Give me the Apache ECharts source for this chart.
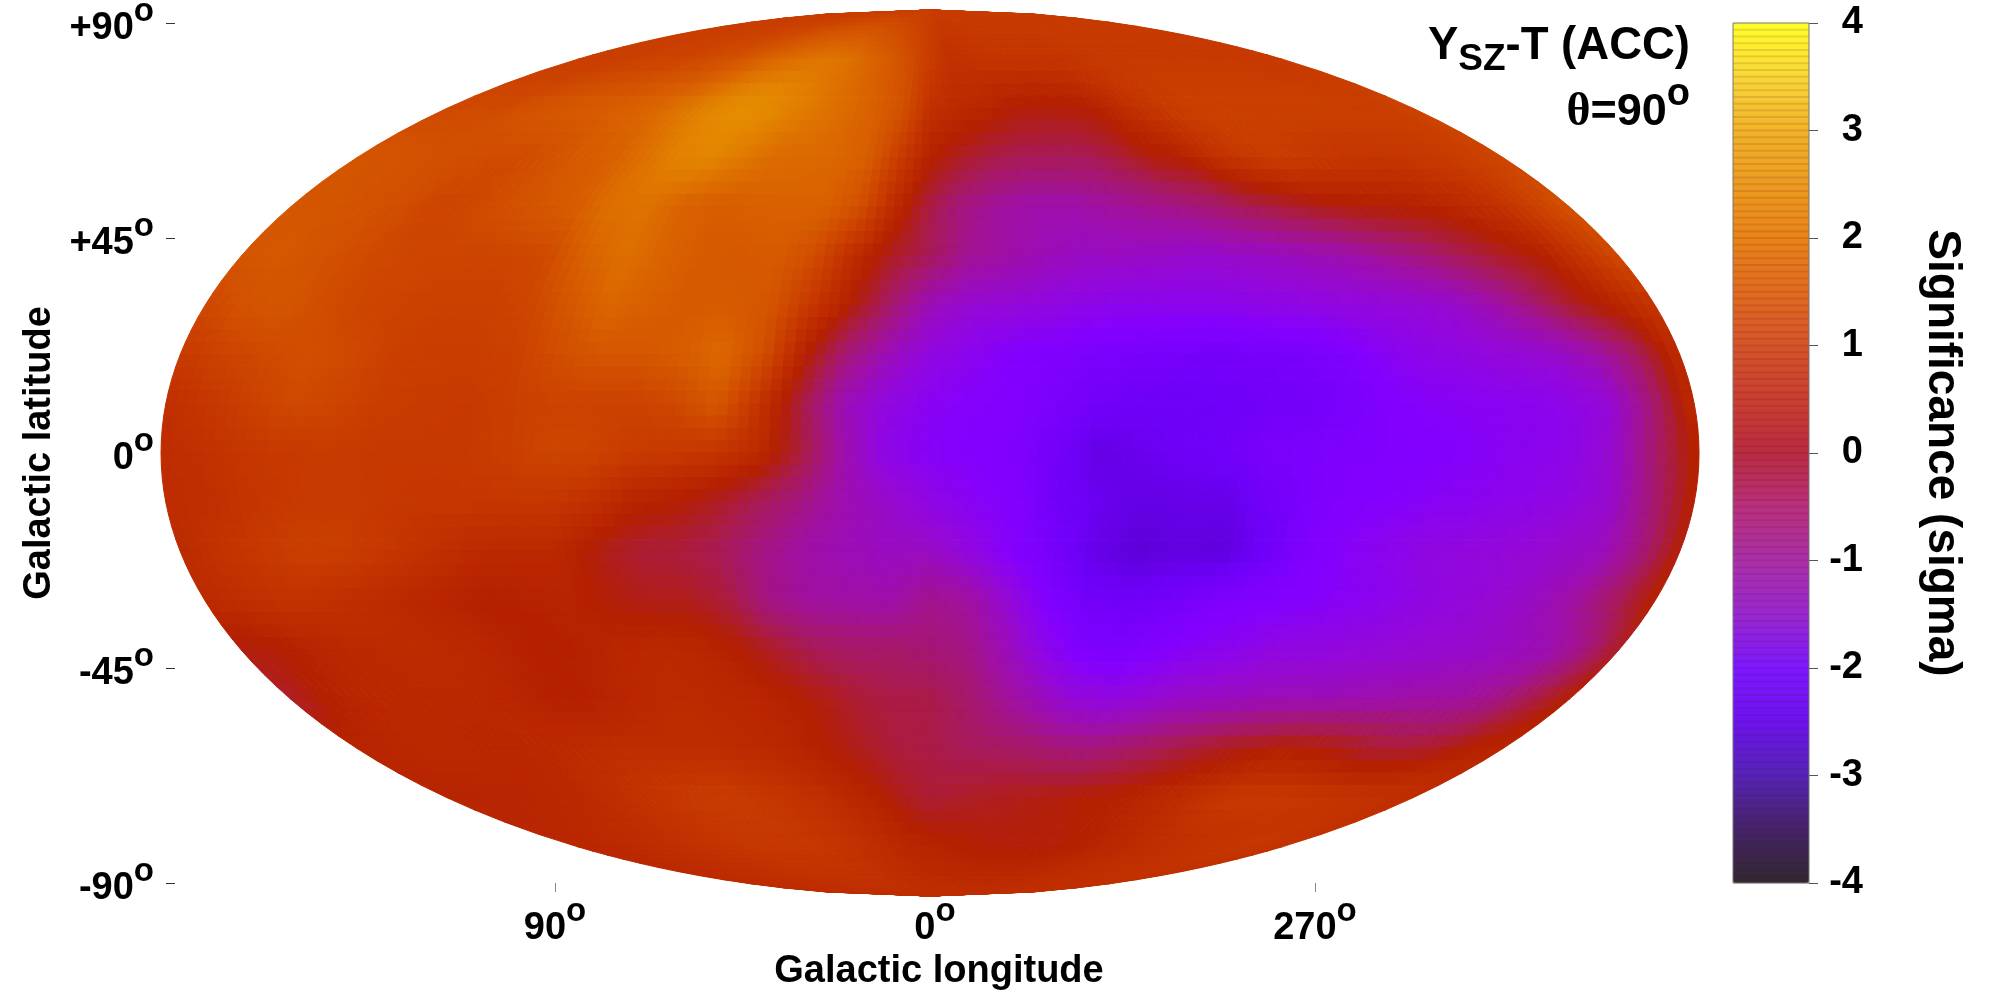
<!DOCTYPE html>
<html>
<head>
<meta charset="utf-8">
<style>html,body{margin:0;padding:0;background:#fff}#c{width:2000px;height:1000px}</style>
<script src="https://cdn.jsdelivr.net/npm/echarts@6/dist/echarts.min.js"></script>
</head>
<body>
<div id="c"></div>
<script>
// Significance, one row per latitude, columns lon = +180 ... -180 (left to right), step 10 deg.
const lons = [180,170,160,150,140,130,120,110,100,90,80,70,60,50,40,30,20,10,0,-10,-20,-30,-40,-50,-60,-70,-80,-90,-100,-110,-120,-130,-140,-150,-160,-170,-180];
const lats = [90,80,70,60,50,40,30,20,10,0,-10,-20,-30,-40,-50,-60,-70,-80,-90];
const p90 = [.7,.7,.7,.7,.7,.7,.7,.7,.7,.7,.7,.7,.7,.7,.7,.7,.7,.7,.7,.65,.65,.65,.65,.65,.65,.65,.65,.65,.65,.65,.65,.65,.65,.65,.65,.65,.65];
const p80 = [.7,.7,.7,.75,.8,.8,.9,1.0,1.1,1.3,1.5,1.65,1.75,1.8,1.7,1.5,1.3,1.0,.7,.4,.45,.5,.5,.5,.5,.5,.55,.6,.6,.6,.6,.6,.6,.6,.6,.6,.6];
const p70 = [.9,.95,.95,1.1,1.2,1.3,1.35,1.45,1.6,1.85,2.15,2.3,2.25,2.0,1.8,1.6,1.4,1.1,.4,.25,.15,.0,-.05,-.05,.0,.25,.5,.65,.75,.75,.75,.75,.75,.75,.7,.7,.8];
const p60 = [1.2,1.15,1.1,1.05,1.0,.95,1.1,1.3,1.4,1.7,2.0,2.15,1.9,1.65,1.6,1.55,1.4,.7,.05,-.2,-.4,-.5,-.5,-.5,-.3,-.05,.05,.4,.6,.7,.6,.55,.5,.55,.6,.7,.85];
const p50 = [1.2,1.2,1.1,1.05,.85,.9,1.05,1.2,1.35,1.7,1.75,1.45,1.35,1.4,1.45,1.45,1.1,.25,-.4,-.8,-1.0,-1.1,-1.1,-1.0,-.9,-.8,-.65,-.45,-.3,-.15,-.05,.0,.05,.2,.4,.75,1.1];
const p40 = [1.2,1.25,1.15,1.0,.9,.85,.85,.85,.95,1.45,1.7,1.5,1.3,1.25,1.3,1.0,.3,-.2,-.5,-.9,-1.05,-1.2,-1.3,-1.3,-1.35,-1.4,-1.35,-1.3,-1.2,-1.1,-.9,-.7,-.45,-.2,0,.5,.95];
const p30 = [.9,1.15,1.2,1.0,.85,.8,.75,.75,.85,1.2,1.55,1.4,1.3,1.3,1.2,.6,.0,-.6,-1.2,-1.45,-1.5,-1.6,-1.7,-1.75,-1.75,-1.75,-1.7,-1.65,-1.6,-1.55,-1.5,-1.4,-1.1,-.7,-.2,.1,.5];
const p20 = [.6,.8,.95,1.05,.95,.75,.7,.7,.75,1.0,1.2,1.2,1.35,1.6,1.05,.05,-.7,-1.2,-1.6,-1.8,-2.0,-2.1,-2.2,-2.25,-2.3,-2.35,-2.3,-2.25,-2.1,-1.85,-1.7,-1.6,-1.5,-1.4,-1.1,-.55,.3];
const p10 = [.35,.55,.75,.95,.85,.7,.65,.6,.7,.8,.8,.8,.9,1.25,.45,-.4,-1.2,-1.6,-1.85,-1.95,-2.0,-2.2,-2.4,-2.5,-2.5,-2.45,-2.4,-2.35,-2.2,-2.0,-1.9,-1.85,-1.8,-1.7,-1.5,-.7,.25];
const p00 = [.3,.4,.55,.6,.65,.6,.6,.6,.7,.85,.85,.65,.6,.5,.25,-.35,-1.1,-1.7,-1.9,-2.0,-2.1,-2.4,-2.75,-2.6,-2.5,-2.4,-2.2,-2.15,-2.1,-2.05,-2.0,-1.9,-1.8,-1.7,-1.4,-.6,.1];
const m10 = [.3,.35,.5,.6,.65,.6,.55,.55,.55,.55,.4,.1,.0,-.2,-.5,-.8,-1.15,-1.35,-1.65,-1.85,-2.0,-2.4,-2.6,-2.75,-2.7,-2.7,-2.4,-2.15,-2.0,-1.95,-1.85,-1.8,-1.7,-1.6,-1.4,-.7,.05];
const m20 = [.25,.45,.6,.75,.7,.55,.4,.25,.2,.2,-.1,-.3,-.35,-.5,-.8,-1.05,-1.2,-1.3,-1.3,-1.6,-2.0,-2.3,-2.7,-2.9,-2.8,-2.85,-2.5,-2.1,-1.9,-1.75,-1.6,-1.55,-1.5,-1.4,-1.3,-.8,.0];
const m30 = [.25,.35,.45,.4,.3,.2,.1,.0,.05,.1,-.05,-.15,-.15,-.35,-.8,-1.0,-1.05,-1.1,-.85,-1.0,-1.5,-2.1,-2.4,-2.45,-2.35,-2.15,-2.05,-2.0,-1.9,-1.8,-1.65,-1.55,-1.45,-1.3,-1.0,-.55,.05];
const m40 = [-.1,-.05,.1,.2,.25,.25,.2,.1,.0,.05,.15,.2,.15,.0,-.25,-.5,-.6,-.6,-.7,-.8,-1.2,-1.7,-2.1,-2.15,-2.0,-1.85,-1.75,-1.6,-1.6,-1.55,-1.5,-1.45,-1.4,-1.3,-1.2,-.85,-.2];
const m50 = [-.25,.0,.15,.2,.2,.2,.15,.05,.0,.1,.2,.25,.2,.15,.05,-.1,-.3,-.4,-.4,-.6,-.9,-1.2,-1.5,-1.6,-1.5,-1.35,-1.3,-1.25,-1.2,-1.2,-1.15,-1.1,-1.05,-1.0,-.8,-.4,.0];
const m60 = [.1,.15,.2,.2,.15,.15,.2,.25,.3,.3,.3,.3,.25,.2,.1,-.05,-.2,-.35,-.4,-.5,-.55,-.6,-.7,-.75,-.65,-.5,-.35,-.2,-.1,.0,-.05,-.15,-.3,-.3,-.2,.0,.1];
const m70 = [.1,.1,.1,.1,.15,.2,.3,.4,.5,.6,.65,.65,.55,.45,.35,.2,.05,-.15,-.3,-.25,-.2,-.15,-.1,-.05,.0,.05,.15,.25,.4,.55,.6,.6,.55,.5,.45,.4,.3];
const m80 = [.15,.15,.2,.25,.3,.35,.4,.45,.5,.55,.55,.55,.55,.5,.45,.35,.25,.15,.1,.05,.0,-.05,-.05,-.05,-.05,.0,.05,.15,.2,.3,.35,.4,.45,.5,.55,.5,.45];
const m90 = [.35,.35,.35,.35,.35,.35,.35,.35,.35,.35,.35,.35,.35,.35,.35,.35,.35,.35,.35,.35,.35,.35,.35,.35,.35,.35,.35,.35,.35,.35,.35,.35,.35,.35,.35,.35,.35];
const rows = [p90,p80,p70,p60,p50,p40,p30,p20,p10,p00,m10,m20,m30,m40,m50,m60,m70,m80,m90];

const mapPalette = ['#281830','#3c1078','#5a00d0','#6e00f8','#8300ff','#9408d8','#a010a0','#a81a58','#b42000','#c43400','#d04c00','#da6400','#e28000','#e89600','#f0b000','#f8d800','#ffff20'];
const barPalette = ['#302830','#442468','#5424b8','#6c14f0','#7c18ff','#9828d0','#a830a8','#b8307c','#b82c40','#c84030','#d45428','#e06c20','#e88418','#ec9c20','#f0b428','#f8d838','#ffff28'];

const lonTicks = [90,0,-90];
const lonTickLabels = {'90':'90','0':'0','-90':'270'};
const latTickLabels = {'90':'+90','45':'+45','0':'0','-45':'-45','-90':'-90'};
const barTicks = [-4,-3,-2,-1,0,1,2,3,4];

const FONT = '"Liberation Sans", Arial, sans-serif';
const cells = [];
rows.forEach((r, j) => r.forEach((v, i) => cells.push([lons[i], lats[j], v, i, j])));

// Horizontal banding of the colour bar (decoration of the scale, every 1/16 sigma).
const barBands = [];
for (let b = 0; b < 128; b++) barBands.push(-4 + b / 16);

// Elliptical sky projection: axis units are degrees at the equator / central meridian.
function project(lon, lat) {
  const f = Math.sqrt(Math.max(0, 1 - (lat / 90) * (lat / 90)));
  return [1.18 + lon * (769 / 760) * f, lat * (443 / 430)];
}
const colorOf = v => echarts.color.lerp(Math.min(1, Math.max(0, (v + 4) / 8)), mapPalette);

function renderCell(params, api) {
  const i = api.value(3), j = api.value(4);
  if (i >= lons.length - 1 || j >= lats.length - 1) return null;
  const polar = (j === 0 || j === lats.length - 2);
  const nu = 4, nv = polar ? 12 : 4;
  const v00 = rows[j][i], v10 = rows[j][i + 1], v01 = rows[j + 1][i], v11 = rows[j + 1][i + 1];
  const pos = (u, v) => {
    const lon = lons[i] + (lons[i + 1] - lons[i]) * u, lat = lats[j] + (lats[j + 1] - lats[j]) * v;
    return api.coord(project(lon, lat));
  };
  const children = [];
  for (let a = 0; a < nu; a++) for (let b = 0; b < nv; b++) {
    const u = (a + .5) / nu, w = (b + .5) / nv;
    const val = v00 * (1 - u) * (1 - w) + v10 * u * (1 - w) + v01 * (1 - u) * w + v11 * u * w;
    const c = colorOf(val);
    children.push({
      type: 'polygon', silent: true,
      shape: { points: [pos(a / nu, b / nv), pos((a + 1) / nu, b / nv), pos((a + 1) / nu, (b + 1) / nv), pos(a / nu, (b + 1) / nv)] },
      style: { fill: c, stroke: c, lineWidth: 1 }
    });
  }
  return { type: 'group', children };
}

function renderBand(params, api) {
  const p0 = api.coord([0, api.value(0)]), p1 = api.coord([1, api.value(0)]);
  return { type: 'rect', silent: true, shape: { x: p0[0], y: p0[1] - 1, width: p1[0] - p0[0], height: 2 },
    style: { fill: 'rgba(110,0,50,0.13)' } };
}

const richLabel = {
  n: { fontFamily: FONT, fontWeight: 'bold', fontSize: 38, color: '#000', padding: [12, 0, 0, 0] },
  s: { fontFamily: FONT, fontWeight: 'bold', fontSize: 33, color: '#000', padding: [0, 0, 22, 0] }
};
const hiddenLine = { show: true, onZero: false, lineStyle: { color: 'rgba(0,0,0,0)' } };

const chart = echarts.init(document.getElementById('c'), null, { renderer: 'canvas' });
chart.setOption({
  animation: false,
  backgroundColor: '#fff',
  title: [
    { text: '{a|Y}{b|SZ}{a|-T (ACC)}', right: 310, top: 15, padding: 0,
      textStyle: { rich: {
        a: { fontFamily: FONT, fontWeight: 'bold', fontSize: 45.5, color: '#000' },
        b: { fontFamily: FONT, fontWeight: 'bold', fontSize: 37, color: '#000', padding: [26, 0, 0, 0] } } } },
    { text: '{t|θ}{a|=90}{s|o}', right: 310, top: 76, padding: 0,
      textStyle: { rich: {
        t: { fontFamily: '"Liberation Serif", serif', fontSize: 46, color: '#000', padding: [10, 0, 0, 0] },
        a: { fontFamily: FONT, fontWeight: 'bold', fontSize: 45, color: '#000', padding: [10, 0, 0, 0] },
        s: { fontFamily: FONT, fontWeight: 'bold', fontSize: 38, color: '#000', padding: [0, 0, 26, 0] } } } }
  ],
  grid: [
    { left: 175, top: 23, width: 1520, height: 860, show: false, outerBoundsMode: 'none' },
    { left: 1733, top: 23, width: 76, height: 860, show: true, borderColor: '#777', borderWidth: 1, backgroundColor: 'transparent', z: 10, outerBoundsMode: 'none' }
  ],
  xAxis: [
    { type: 'value', gridIndex: 0, min: -180, max: 180, inverse: true, position: 'bottom',
      name: 'Galactic longitude', nameLocation: 'middle', nameGap: 68,
      nameTextStyle: { fontFamily: FONT, fontWeight: 'bold', fontSize: 38, color: '#000', padding: [0, 0, 0, 8] },
      axisLine: hiddenLine, splitLine: { show: false },
      axisTick: { show: true, length: 9, lineStyle: { color: '#888', width: 1 }, customValues: lonTicks },
      axisLabel: { margin: 12, customValues: lonTicks, rich: richLabel,
        formatter: v => '{n|' + lonTickLabels[String(v)] + '}{s|o}' } },
    { type: 'value', gridIndex: 1, min: 0, max: 1, show: false }
  ],
  yAxis: [
    { type: 'value', gridIndex: 0, min: -90, max: 90, interval: 45,
      name: 'Galactic latitude', nameLocation: 'middle', nameRotate: 90, nameGap: 115,
      nameTextStyle: { fontFamily: FONT, fontWeight: 'bold', fontSize: 38, color: '#000' },
      axisLine: hiddenLine, splitLine: { show: false },
      axisTick: { show: true, length: 9, lineStyle: { color: '#333', width: 1 } },
      axisLabel: { margin: 21, rich: richLabel, formatter: v => '{n|' + latTickLabels[String(v)] + '}{s|o}' } },
    { type: 'value', gridIndex: 1, min: -4, max: 4, interval: 1, position: 'right',
      name: 'Significance (sigma)', nameLocation: 'middle', nameRotate: -90, nameGap: 110,
      nameTextStyle: { fontFamily: FONT, fontWeight: 'bold', fontSize: 46, color: '#000' },
      axisLine: hiddenLine, splitLine: { show: false },
      axisTick: { show: true, length: 9, lineStyle: { color: '#555', width: 1 }, customValues: barTicks },
      axisLabel: { margin: 54, align: 'right', fontFamily: FONT, fontWeight: 'bold', fontSize: 38, color: '#000', customValues: barTicks } }
  ],
  visualMap: {
    type: 'continuous', min: -4, max: 4, seriesIndex: 1, orient: 'vertical',
    left: 1733, top: 23, padding: 0, itemWidth: 76, itemHeight: 860, calculable: false, hoverLink: false,
    showLabel: false, text: null, inRange: { color: barPalette }
  },
  series: [
    { type: 'custom', xAxisIndex: 0, yAxisIndex: 0, coordinateSystem: 'cartesian2d', clip: false, silent: true,
      progressive: 0, animation: false, renderItem: renderCell, encode: { x: 0, y: 1 }, data: cells },
    { type: 'scatter', xAxisIndex: 1, yAxisIndex: 1, data: [], silent: true },
    { type: 'custom', xAxisIndex: 1, yAxisIndex: 1, coordinateSystem: 'cartesian2d', clip: false, silent: true, z: 6,
      progressive: 0, animation: false, renderItem: renderBand, encode: { y: 0 }, data: barBands.map(v => [v]) }
  ]
});
</script>
</body>
</html>
